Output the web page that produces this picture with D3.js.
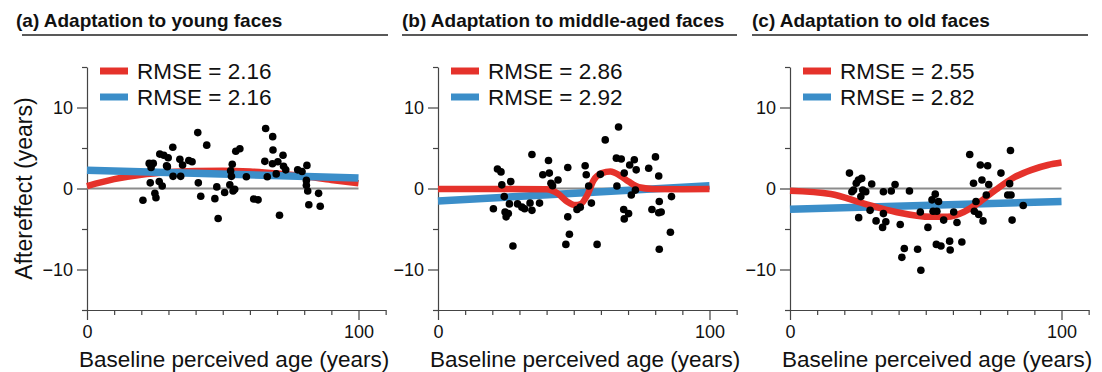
<!DOCTYPE html>
<html>
<head>
<meta charset="utf-8">
<script src="https://cdn.jsdelivr.net/npm/d3@7"></script>
<style>
  body { margin: 0; background: #fff; }
  text { font-family: "Liberation Sans", Arial, Helvetica, sans-serif; fill: #111; }
</style>
</head>
<body>
<script>
// ---- data ----
const titles = ["(a) Adaptation to young faces", "(b) Adaptation to middle-aged faces", "(c) Adaptation to old faces"];
const rmseRed = ["2.16", "2.86", "2.55"];
const rmseBlue = ["2.16", "2.92", "2.82"];
const xTicks = [0, 10, 20, 30, 40, 50, 60, 70, 80, 90, 100, 110];
const xLabels = [0, 100];
const yTicks = [-15, -10, -5, 0, 5, 10, 15];
const yLabels = [-10, 0, 10];
const xTitle = "Baseline perceived age (years)";
const yTitle = "Aftereffect (years)";

const dotsYoung = [[20.6,-1.45],[22.9,3.1],[24.4,3.1],[23.6,2.6],[23.3,0.7],[25,-0.6],[25.4,-1.15],[26.6,0.85],[27.7,0.3],[26.8,4.25],
  [28.3,4.1],[29.9,3.8],[29.3,2.8],[31.6,5.1],[31.7,1.5],[34.2,3.6],[35.2,2.9],[34.5,1.5],[37.5,3.45],[38.7,3.3],
  [40.8,6.9],[41,0.7],[41.9,-0.95],[44.1,5.35],[47.1,-1.25],[47.8,0.2],[48.3,-3.7],[50.7,-0.5],[52.6,0.45],[52.9,2.2],
  [53.5,3.0],[53.2,1.5],[54.4,-0.1],[53.8,-0.3],[54.8,4.6],[56.3,4.9],[58.7,1.45],[61.4,-1.3],[63,-1.4],[65.8,7.4],
  [68.4,6.4],[68.5,4.75],[65.5,3.35],[68.3,3.05],[70.3,3.3],[72.2,4.1],[72.4,2.75],[73.2,2.3],[66.4,1.45],[69.7,1.8],
  [70.9,-3.3],[77.6,2.3],[79.2,2.1],[81,2.85],[80.8,0.4],[81.3,-0.3],[81.7,-2.0],[85.3,-0.6],[85.9,-2.2],[80.8,1.0],[29.6,2.7]];
const dotsMiddle = [[20.4,-2.5],[21.9,2.4],[23.2,2.05],[23.5,0.45],[24.4,-1.0],[24.7,-2.9],[25.1,-3.5],[25.9,-3.1],[26.8,0.85],[26.3,-1.9],
  [27.6,-7.1],[29.3,-1.9],[30.9,-2.3],[31.9,-2.5],[33.9,-1.8],[34.6,-2.7],[34.6,4.2],[37.4,-1.8],[38.6,1.7],[40.7,3.45],
  [41,1.9],[41.6,0.65],[42.2,0.35],[44.2,1.05],[47.8,2.6],[47.8,-3.5],[48.4,-5.65],[47.1,-6.9],[51.2,-2.6],[52.4,-2.3],
  [54.2,2.8],[54.6,1.7],[55.5,0.3],[56.5,-1.8],[58.6,-6.9],[59.8,1.75],[61.6,6.0],[66.5,7.6],[65.7,3.75],[67.5,3.65],
  [65.9,0.3],[68.6,1.9],[68.4,-2.6],[68.6,-3.75],[70.2,-3.1],[70.6,2.9],[72.3,3.55],[73,2.3],[72.7,-0.2],[71.2,-0.8],
  [77.6,2.5],[80.1,3.9],[81.3,1.55],[78.8,-2.6],[81.5,-1.6],[81.3,-3.0],[82.2,-2.9],[81.5,-7.5],[85.6,-5.4],[86,-1.0]];
const dotsOld = [[21.9,1.9],[22.8,-0.4],[23.4,-0.2],[24.4,0.65],[25.2,1.05],[26.4,1.25],[26.8,-0.2],[27.9,-0.4],[26.1,-1.0],[25.3,-3.6],
  [30.1,0.55],[29.5,-2.7],[31.7,-4.0],[34.4,-0.4],[34.4,-3.1],[35.3,-4.1],[34.1,-4.8],[37.3,-0.3],[38.7,0.5],[40.6,-4.45],
  [42.1,-7.4],[41.2,-8.5],[44,-0.3],[47,-7.5],[48.2,-10.1],[48,-2.9],[50.8,-4.8],[52.3,-1.4],[53.5,-0.7],[52.7,-2.8],
  [54.1,-2.8],[54.7,-1.6],[53.9,-6.9],[55.6,-7.1],[56.6,-3.9],[58.8,-6.5],[59,-7.6],[60.3,-2.9],[61.5,-4.2],[63.3,-6.6],
  [66.2,4.2],[67.6,0.65],[70.1,2.9],[72.8,2.8],[70.7,1.05],[73.2,0.5],[68.5,-1.6],[67.9,-2.8],[69.5,-3.2],[71.1,-4.0],
  [72.3,-0.8],[77.7,1.9],[81.2,4.7],[80.2,-0.8],[81.4,-0.8],[80.9,0.6],[81.8,-3.9],[85.9,-2.1]];

// red = nonlinear fit, blue = linear fit
const redYoung = [[0,0.3],[10,1.15],[20,1.7],[30,2.0],[40,2.15],[50,2.2],[60,2.1],[70,1.85],[80,1.5],[90,1.05],[100,0.65]];
const redMiddle = [[0,-0.05],[15,-0.06],[40,-0.1],[44,-0.6],[47.5,-1.6],[50.6,-2.05],[52.4,-1.95],[55,-0.8],[57.3,1.0],
  [60.4,1.9],[63.5,2.1],[67.2,1.55],[70.2,0.85],[74,0.15],[79,-0.05],[90,-0.08],[100,-0.05]];
const redOld = [[0,-0.27],[15,-0.68],[27,-1.84],[39,-2.9],[52,-3.5],[58,-3.5],[64,-2.9],[70,-1.64],[76,-0.1],[82,1.27],[89,2.3],[95,2.9],[100,3.2]];
const blueYoung = [[0,2.25],[100,1.3]];
const blueMiddle = [[0,-1.55],[100,0.35]];
const blueOld = [[0,-2.55],[100,-1.6]];

const panels = [
  {dots: dotsYoung, red: redYoung, blue: blueYoung, redOnTop: false},
  {dots: dotsMiddle, red: redMiddle, blue: blueMiddle, redOnTop: true},
  {dots: dotsOld, red: redOld, blue: blueOld, redOnTop: true}
];

// ---- layout ----
const width = 1102, height = 372;
const originX = [87, 438, 790];
const unit = 2.715;
const titleX = [16, 402, 752];
const ruleX = [[22, 388], [402, 737], [752, 1088]];
const RED = "#e5322b", BLUE = "#3b8ec9", AXIS = "#444";

const svg = d3.select("body").append("svg")
  .attr("width", width)
  .attr("height", height);

const yScale = d3.scaleLinear().domain([-15, 15]).range([310, 67]);

panels.forEach((p, i) => {
  const xScale = d3.scaleLinear().domain([0, 110]).range([originX[i], originX[i] + 110 * unit]);
  const g = svg.append("g");

  // title + rule
  g.append("text")
    .attr("x", titleX[i])
    .attr("y", 27)
    .style("font-size", "19px")
    .style("font-weight", "bold")
    .text(titles[i]);
  g.append("line")
    .attr("x1", ruleX[i][0]).attr("x2", ruleX[i][1])
    .attr("y1", 35).attr("y2", 35)
    .attr("stroke", "#222").attr("stroke-width", 1.5);

  // axes
  g.append("g")
    .attr("transform", "translate(0,310)")
    .call(d3.axisBottom(xScale).tickValues(xTicks).tickSize(5).tickSizeOuter(0)
      .tickFormat(d => xLabels.includes(d) ? d : ""))
    .call(a => a.selectAll(".tick line").filter(d => xLabels.includes(d)).attr("y2", 10))
    .call(a => a.selectAll(".tick text").attr("y", 15).style("font-size", "18px").attr("fill", "#111"));

  g.append("g")
    .attr("transform", `translate(${originX[i]},0)`)
    .call(d3.axisLeft(yScale).tickValues(yTicks).tickSize(5).tickSizeOuter(0)
      .tickFormat(d => yLabels.includes(d) ? d3.format("")(d) : ""))
    .call(a => a.selectAll(".tick line").filter(d => yLabels.includes(d)).attr("x2", -10))
    .call(a => a.selectAll(".tick text").attr("x", -14).style("font-size", "18px").attr("fill", "#111"));

  g.selectAll(".domain, .tick line").attr("stroke", AXIS).attr("stroke-width", 1.2);

  // axis titles
  g.append("text")
    .attr("x", originX[i] - 8)
    .attr("y", 367)
    .style("font-size", "22.5px")
    .text(xTitle);
  if (i === 0) {
    g.append("text")
      .attr("transform", `translate(31.5,${yScale(0)}) rotate(-90)`)
      .attr("text-anchor", "middle")
      .style("font-size", "23px")
      .text(yTitle);
  }

  // zero reference
  g.append("line")
    .attr("x1", xScale(0)).attr("x2", xScale(100))
    .attr("y1", yScale(0)).attr("y2", yScale(0))
    .attr("stroke", "#8c8c8c").attr("stroke-width", 2);

  // fits
  const line = d3.line().x(d => xScale(d[0])).y(d => yScale(d[1])).curve(d3.curveMonotoneX);
  const drawRed = () => g.append("path").datum(p.red).attr("d", line)
    .attr("fill", "none").attr("stroke", RED).attr("stroke-width", 6.5);
  const drawBlue = () => g.append("path").datum(p.blue).attr("d", line)
    .attr("fill", "none").attr("stroke", BLUE).attr("stroke-width", 7.5);
  if (p.redOnTop) { drawBlue(); drawRed(); } else { drawRed(); drawBlue(); }

  // points
  g.append("g")
    .selectAll("circle")
    .data(p.dots)
    .enter()
    .append("circle")
    .attr("cx", d => xScale(d[0]))
    .attr("cy", d => yScale(d[1]))
    .attr("r", 3.8)
    .attr("fill", "#000");

  // legend
  const legend = [[RED, rmseRed[i], 71], [BLUE, rmseBlue[i], 97]];
  legend.forEach(([c, v, ly]) => {
    g.append("line")
      .attr("x1", originX[i] + 13).attr("x2", originX[i] + 41)
      .attr("y1", ly).attr("y2", ly)
      .attr("stroke", c).attr("stroke-width", 7);
    g.append("text")
      .attr("x", originX[i] + 50)
      .attr("y", ly + 7.5)
      .style("font-size", "22.5px")
      .text("RMSE = " + v);
  });
});
</script>
</body>
</html>
